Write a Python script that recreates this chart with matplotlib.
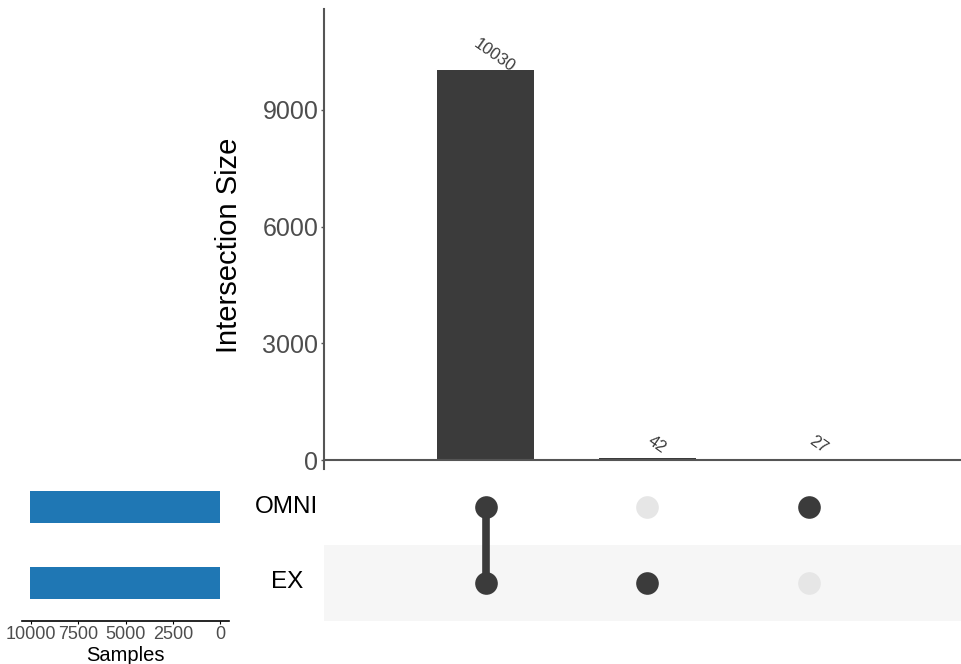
import numpy as np
import matplotlib
matplotlib.use("Agg")
import matplotlib.pyplot as plt

plt.rcParams['font.family'] = ['Liberation Sans', 'DejaVu Sans']

# set names (bottom row first) and intersection membership
sets = ["EX", "OMNI"]
set_sizes = [10072, 10057]
intersection_sizes = [10030, 42, 27]
# membership matrix: rows = sets (EX, OMNI), columns = intersections
membership = [
    [1, 1, 0],
    [1, 0, 1],
]

dark = "#3b3b3b"
light = "#e6e6e6"
axis_col = "#555555"
tick_col = "#4d4d4d"

W, H = 961, 664
fig = plt.figure(figsize=(W / 100, H / 100), dpi=100)


def box(l, t, r, b):
    return [l / W, 1 - b / H, (r - l) / W, (b - t) / H]


x = np.arange(1, len(intersection_sizes) + 1)

# --- intersection size bars
ax = fig.add_axes(box(324, 9, 961, 469))
ax.bar(x, intersection_sizes, width=0.6, color=dark, zorder=2)
ax.set_xlim(0, 3.94)
ax.set_ylim(-231, 11597)
ax.axhline(0, color=axis_col, lw=1.5, zorder=3)
ax.set_yticks([0, 3000, 6000, 9000])
ax.set_xticks([])
for s in ["top", "right", "bottom"]:
    ax.spines[s].set_visible(False)
ax.spines["left"].set_color(axis_col)
ax.spines["left"].set_linewidth(1.5)
ax.tick_params(axis="y", length=2.5, width=1, color=axis_col, labelsize=18,
               labelcolor=tick_col, pad=1.5)
for xi, v in zip(x, intersection_sizes):
    ax.annotate(str(v), (xi, v), xytext=(6.5, 10), textcoords="offset points",
                rotation=-35, rotation_mode="anchor", ha="center", va="center",
                fontsize=12, color=dark)
fig.text(229 / W, 1 - 245 / H, "Intersection Size", rotation=90,
         ha="center", va="center", fontsize=21, color="black")

# --- membership matrix
mx = fig.add_axes(box(324, 469, 961, 621))
mx.set_xlim(0, 3.94)
mx.set_ylim(-0.5, 1.5)
mx.axhspan(-0.5, 0.5, color="#f6f6f6", lw=0, zorder=0)
for j, xi in enumerate(x):
    rows = [i for i in range(len(sets)) if membership[i][j]]
    for i in range(len(sets)):
        mx.plot(xi, i, "o", ms=16.3, color=dark if membership[i][j] else light,
                mec="none", zorder=3)
    if len(rows) > 1:
        mx.plot([xi, xi], [min(rows), max(rows)], color=dark, lw=5.5, zorder=2)
mx.axis("off")
for i, name in enumerate(sets):
    fig.text(287 / W, 1 - (582.5 - 75.5 * i) / H, name, ha="center",
             va="center", fontsize=17.5, color="black")

# --- set size bars
sx = fig.add_axes(box(22, 469, 229, 621))
sx.barh(range(len(sets)), set_sizes, height=0.42, color="#1f77b4")
sx.set_xlim(10475, -449)
sx.set_ylim(-0.5, 1.5)
sx.set_yticks([])
sx.set_xticks([10000, 7500, 5000, 2500, 0])
for s in ["top", "right", "left"]:
    sx.spines[s].set_visible(False)
sx.spines["bottom"].set_color("black")
sx.spines["bottom"].set_linewidth(1.2)
sx.tick_params(axis="x", length=2, width=0.8, labelsize=13,
               labelcolor=tick_col, pad=1.5)
sx.set_xlabel("Samples", fontsize=14.5, color="black", labelpad=2)

fig.savefig("out.png", dpi=100)
